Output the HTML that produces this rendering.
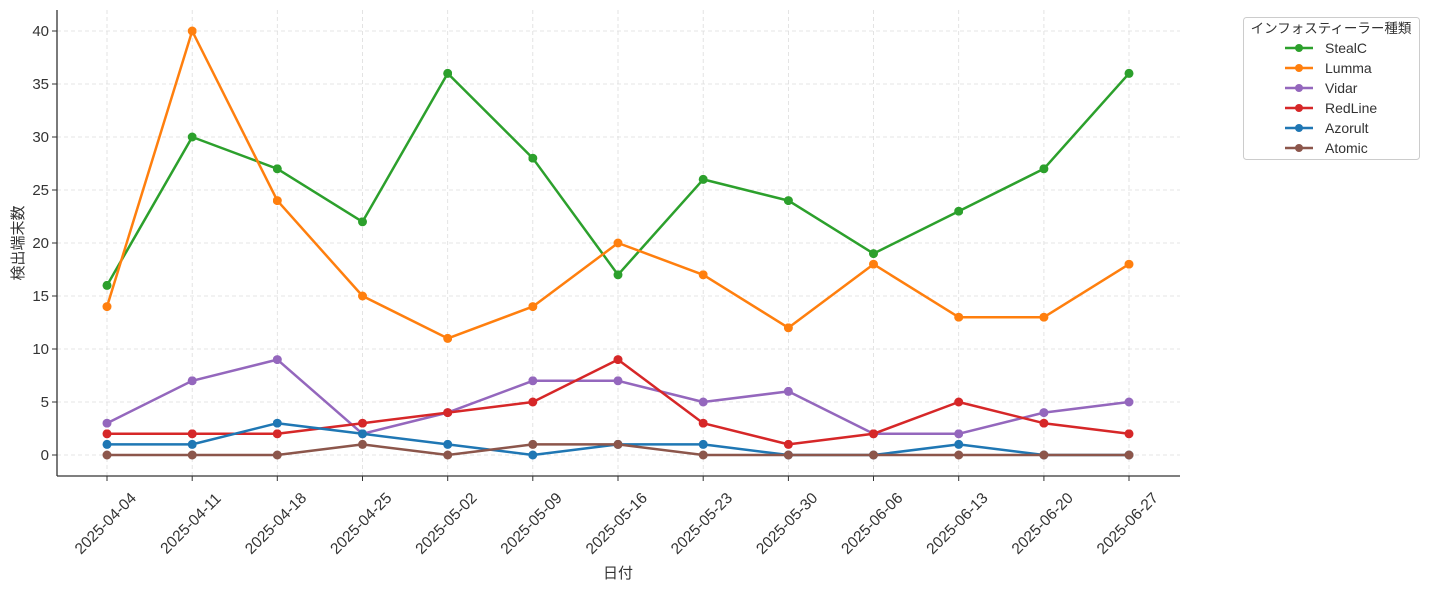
<!DOCTYPE html>
<html><head><meta charset="utf-8"><style>
body{margin:0;background:#fff}
svg{display:block;font-family:"Liberation Sans","DejaVu Sans","Noto Sans CJK JP",sans-serif}
</style></head><body>
<svg width="1430" height="595" viewBox="0 0 1430 595" xmlns="http://www.w3.org/2000/svg">
<defs>
<marker id="mg" viewBox="0 0 10 10" refX="5" refY="5" markerWidth="9" markerHeight="9" markerUnits="userSpaceOnUse"><circle cx="5" cy="5" r="5" fill="#2ca02c"/></marker>
<marker id="mo" viewBox="0 0 10 10" refX="5" refY="5" markerWidth="9" markerHeight="9" markerUnits="userSpaceOnUse"><circle cx="5" cy="5" r="5" fill="#ff7f0e"/></marker>
<marker id="mp" viewBox="0 0 10 10" refX="5" refY="5" markerWidth="9" markerHeight="9" markerUnits="userSpaceOnUse"><circle cx="5" cy="5" r="5" fill="#9467bd"/></marker>
<marker id="mr" viewBox="0 0 10 10" refX="5" refY="5" markerWidth="9" markerHeight="9" markerUnits="userSpaceOnUse"><circle cx="5" cy="5" r="5" fill="#d62728"/></marker>
<marker id="mb" viewBox="0 0 10 10" refX="5" refY="5" markerWidth="9" markerHeight="9" markerUnits="userSpaceOnUse"><circle cx="5" cy="5" r="5" fill="#1f77b4"/></marker>
<marker id="mn" viewBox="0 0 10 10" refX="5" refY="5" markerWidth="9" markerHeight="9" markerUnits="userSpaceOnUse"><circle cx="5" cy="5" r="5" fill="#8c564b"/></marker>
</defs>
<g stroke="#dddddd" stroke-width="0.8" stroke-dasharray="4,3">
<line x1="57" x2="1180" y1="455" y2="455"/><line x1="57" x2="1180" y1="402" y2="402"/><line x1="57" x2="1180" y1="349" y2="349"/><line x1="57" x2="1180" y1="296" y2="296"/><line x1="57" x2="1180" y1="243" y2="243"/><line x1="57" x2="1180" y1="190" y2="190"/><line x1="57" x2="1180" y1="137" y2="137"/><line x1="57" x2="1180" y1="84" y2="84"/><line x1="57" x2="1180" y1="31" y2="31"/>
<line y1="10" y2="476" x1="107" x2="107"/><line y1="10" y2="476" x1="192.2" x2="192.2"/><line y1="10" y2="476" x1="277.3" x2="277.3"/><line y1="10" y2="476" x1="362.5" x2="362.5"/><line y1="10" y2="476" x1="447.7" x2="447.7"/><line y1="10" y2="476" x1="532.8" x2="532.8"/><line y1="10" y2="476" x1="618" x2="618"/><line y1="10" y2="476" x1="703.2" x2="703.2"/><line y1="10" y2="476" x1="788.4" x2="788.4"/><line y1="10" y2="476" x1="873.5" x2="873.5"/><line y1="10" y2="476" x1="958.7" x2="958.7"/><line y1="10" y2="476" x1="1043.9" x2="1043.9"/><line y1="10" y2="476" x1="1129" x2="1129"/>
</g>
<g fill="none" stroke-width="2.5" stroke-linejoin="round">
<polyline stroke="#2ca02c" marker-start="url(#mg)" marker-mid="url(#mg)" marker-end="url(#mg)" points="107,285.4 192.2,137 277.3,168.8 362.5,221.8 447.7,73.4 532.8,158.2 618,274.8 703.2,179.4 788.4,200.6 873.5,253.6 958.7,211.2 1043.9,168.8 1129,73.4"/>
<polyline stroke="#ff7f0e" marker-start="url(#mo)" marker-mid="url(#mo)" marker-end="url(#mo)" points="107,306.6 192.2,31 277.3,200.6 362.5,296 447.7,338.4 532.8,306.6 618,243 703.2,274.8 788.4,327.8 873.5,264.2 958.7,317.2 1043.9,317.2 1129,264.2"/>
<polyline stroke="#9467bd" marker-start="url(#mp)" marker-mid="url(#mp)" marker-end="url(#mp)" points="107,423.2 192.2,380.8 277.3,359.6 362.5,433.8 447.7,412.6 532.8,380.8 618,380.8 703.2,402 788.4,391.4 873.5,433.8 958.7,433.8 1043.9,412.6 1129,402"/>
<polyline stroke="#d62728" marker-start="url(#mr)" marker-mid="url(#mr)" marker-end="url(#mr)" points="107,433.8 192.2,433.8 277.3,433.8 362.5,423.2 447.7,412.6 532.8,402 618,359.6 703.2,423.2 788.4,444.4 873.5,433.8 958.7,402 1043.9,423.2 1129,433.8"/>
<polyline stroke="#1f77b4" marker-start="url(#mb)" marker-mid="url(#mb)" marker-end="url(#mb)" points="107,444.4 192.2,444.4 277.3,423.2 362.5,433.8 447.7,444.4 532.8,455 618,444.4 703.2,444.4 788.4,455 873.5,455 958.7,444.4 1043.9,455 1129,455"/>
<polyline stroke="#8c564b" marker-start="url(#mn)" marker-mid="url(#mn)" marker-end="url(#mn)" points="107,455 192.2,455 277.3,455 362.5,444.4 447.7,455 532.8,444.4 618,444.4 703.2,455 788.4,455 873.5,455 958.7,455 1043.9,455 1129,455"/>
</g>
<g stroke="#333" stroke-width="1.3"><line x1="57" y1="10" x2="57" y2="476"/><line x1="57" y1="476" x2="1180" y2="476"/></g>
<g stroke="#333" stroke-width="1"><line x1="52" x2="57" y1="455" y2="455"/><line x1="52" x2="57" y1="402" y2="402"/><line x1="52" x2="57" y1="349" y2="349"/><line x1="52" x2="57" y1="296" y2="296"/><line x1="52" x2="57" y1="243" y2="243"/><line x1="52" x2="57" y1="190" y2="190"/><line x1="52" x2="57" y1="137" y2="137"/><line x1="52" x2="57" y1="84" y2="84"/><line x1="52" x2="57" y1="31" y2="31"/>
<line y1="476" y2="481" x1="107" x2="107"/><line y1="476" y2="481" x1="192.2" x2="192.2"/><line y1="476" y2="481" x1="277.3" x2="277.3"/><line y1="476" y2="481" x1="362.5" x2="362.5"/><line y1="476" y2="481" x1="447.7" x2="447.7"/><line y1="476" y2="481" x1="532.8" x2="532.8"/><line y1="476" y2="481" x1="618" x2="618"/><line y1="476" y2="481" x1="703.2" x2="703.2"/><line y1="476" y2="481" x1="788.4" x2="788.4"/><line y1="476" y2="481" x1="873.5" x2="873.5"/><line y1="476" y2="481" x1="958.7" x2="958.7"/><line y1="476" y2="481" x1="1043.9" x2="1043.9"/><line y1="476" y2="481" x1="1129" x2="1129"/></g>
<g font-size="15" fill="#333" text-anchor="end">
<text x="49" y="460">0</text><text x="49" y="407">5</text><text x="49" y="354">10</text><text x="49" y="301">15</text><text x="49" y="248">20</text><text x="49" y="195">25</text><text x="49" y="142">30</text><text x="49" y="89">35</text><text x="49" y="36">40</text>
</g>
<g font-size="15.5" fill="#333" text-anchor="middle">
<text transform="translate(109,527) rotate(-45)">2025-04-04</text>
<text transform="translate(194.2,527) rotate(-45)">2025-04-11</text>
<text transform="translate(279.3,527) rotate(-45)">2025-04-18</text>
<text transform="translate(364.5,527) rotate(-45)">2025-04-25</text>
<text transform="translate(449.7,527) rotate(-45)">2025-05-02</text>
<text transform="translate(534.8,527) rotate(-45)">2025-05-09</text>
<text transform="translate(620,527) rotate(-45)">2025-05-16</text>
<text transform="translate(705.2,527) rotate(-45)">2025-05-23</text>
<text transform="translate(790.4,527) rotate(-45)">2025-05-30</text>
<text transform="translate(875.5,527) rotate(-45)">2025-06-06</text>
<text transform="translate(960.7,527) rotate(-45)">2025-06-13</text>
<text transform="translate(1045.9,527) rotate(-45)">2025-06-20</text>
<text transform="translate(1131,527) rotate(-45)">2025-06-27</text>
</g>
<g font-size="15" fill="#333" text-anchor="middle">
<text x="618" y="578">日付</text>
<text transform="translate(23,243) rotate(-90)">検出端末数</text>
</g>
<rect x="1243.5" y="17.5" width="176" height="142" rx="3" fill="#fff" stroke="#ccc"/>
<text x="1331" y="33" font-size="13.5" fill="#333" text-anchor="middle">インフォスティーラー種類</text>
<g stroke-width="2.5">
<line x1="1285" x2="1313" y1="48" y2="48" stroke="#2ca02c"/><circle cx="1299" cy="48" r="4" fill="#2ca02c"/>
<line x1="1285" x2="1313" y1="68" y2="68" stroke="#ff7f0e"/><circle cx="1299" cy="68" r="4" fill="#ff7f0e"/>
<line x1="1285" x2="1313" y1="88" y2="88" stroke="#9467bd"/><circle cx="1299" cy="88" r="4" fill="#9467bd"/>
<line x1="1285" x2="1313" y1="108" y2="108" stroke="#d62728"/><circle cx="1299" cy="108" r="4" fill="#d62728"/>
<line x1="1285" x2="1313" y1="128" y2="128" stroke="#1f77b4"/><circle cx="1299" cy="128" r="4" fill="#1f77b4"/>
<line x1="1285" x2="1313" y1="148" y2="148" stroke="#8c564b"/><circle cx="1299" cy="148" r="4" fill="#8c564b"/>
</g>
<g font-size="14" fill="#333">
<text x="1325" y="53">StealC</text><text x="1325" y="73">Lumma</text><text x="1325" y="93">Vidar</text><text x="1325" y="113">RedLine</text><text x="1325" y="133">Azorult</text><text x="1325" y="153">Atomic</text>
</g>
</svg>
</body></html>
